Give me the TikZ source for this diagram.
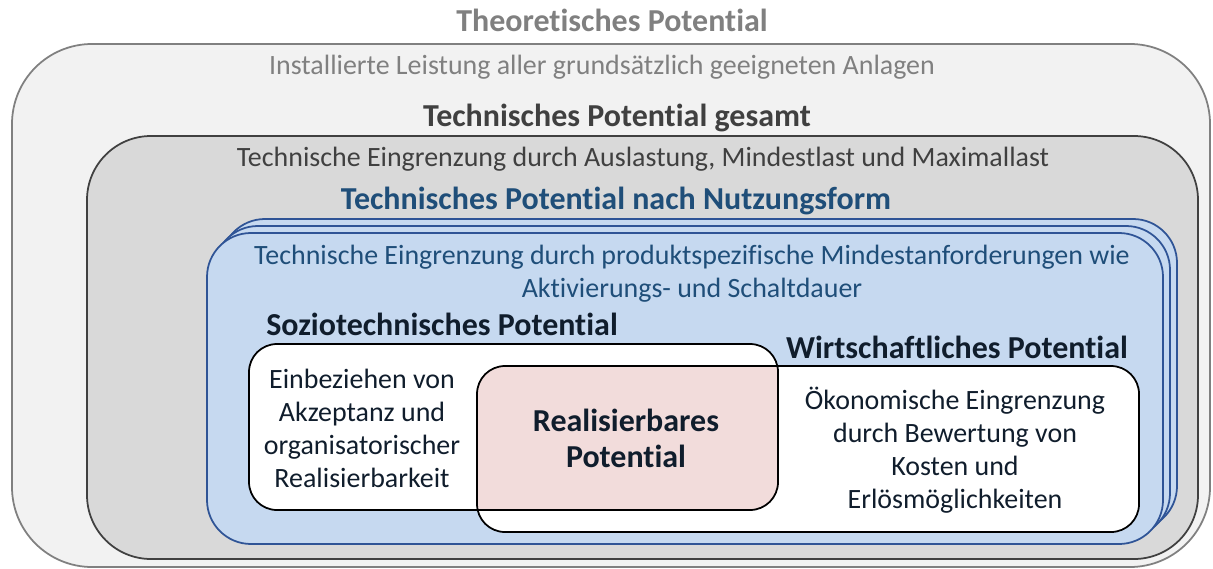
\documentclass[tikz,border=0pt]{standalone}
\usepackage{fontspec}
\setmainfont{Carlito}[Ligatures=NoCommon]
\usetikzlibrary{positioning}

\begin{document}
\begin{tikzpicture}[x=0.2mm,y=-0.2mm,
    frame/.style={line width=1pt, rounded corners=#1},
    title/.style={font=\fontsize{18.2}{21}\selectfont\bfseries, anchor=base, inner sep=0pt},
    remark/.style={font=\fontsize{15.9}{18.5}\selectfont, anchor=base, inner sep=0pt},
    boxtext/.style={font=\fontsize{15.9}{18.8}\selectfont, align=center, inner sep=0pt},
  ]
  \colorlet{theoFill}{black!5}
  \colorlet{theoLine}{black!50}
  \colorlet{techFill}{black!15}
  \colorlet{techLine}{black!75}
  \definecolor{useFill}{HTML}{C6D9F0}
  \definecolor{useLine}{HTML}{2F5496}
  \definecolor{useText}{HTML}{1F4E79}
  \definecolor{realFill}{HTML}{F2DCDB}
  \definecolor{ink}{HTML}{101D2C}

  \useasboundingbox (0,0) rectangle (1213,568);

  % Theoretisches Potential
  \draw[frame=16mm, theoLine, fill=theoFill] (12,44) rectangle (1210,567);
  \node[title, text=black!50] (theo) at (612,32) {Theoretisches Potential};
  \node[remark, text=black!50] (theoNote) at (602,74)
    {Installierte Leistung aller grundsätzlich geeigneten Anlagen};

  % Technisches Potential gesamt
  \draw[frame=12.8mm, techLine, fill=techFill] (87,136) rectangle (1198,559);
  \node[title, text=black!75] (tech) at (617,126) {Technisches Potential gesamt};
  \node[remark, text=black!75] (techNote) at (643,166)
    {Technische Eingrenzung durch Auslastung, Mindestlast und Maximallast};

  % Technisches Potential nach Nutzungsform (gestapelt)
  \node[title, text=useText] (use) at (616,209) {Technisches Potential nach Nutzungsform};
  \foreach \d in {14,7,0}
    \draw[frame=8.8mm, useLine, fill=useFill] (207+\d,233-\d) rectangle (1163+\d,544-\d);
  \node[boxtext, text=useText] (useNote) at (692,274)
    {Technische Eingrenzung durch produktspezifische Mindestanforderungen wie\\
     Aktivierungs- und Schaltdauer};

  % Soziotechnisches und wirtschaftliches Potential
  \node[title, text=ink] (socio) at (442,335) {Soziotechnisches Potential};
  \node[title, text=ink] (econ) at (957,358) {Wirtschaftliches Potential};
  \fill[rounded corners=5.6mm, white] (249,344) rectangle (778,510);
  \fill[rounded corners=5.6mm, white] (477,366) rectangle (1139,532);
  \begin{scope}
    \clip[rounded corners=5.6mm] (249,344) rectangle (778,510);
    \fill[rounded corners=5.6mm, realFill] (477,366) rectangle (1139,532);
  \end{scope}
  \draw[frame=5.6mm, black] (249,344) rectangle (778,510);
  \draw[frame=5.6mm, black] (477,366) rectangle (1139,532);

  \node[boxtext, text=ink] (socioNote) at (362,428)
    {Einbeziehen von\\ Akzeptanz und\\ organisatorischer\\ Realisierbarkeit};
  \node[boxtext, text=ink, font=\fontsize{18.2}{20.4}\selectfont\bfseries] (real) at (626,438)
    {Realisierbares\\ Potential};
  \node[boxtext, text=ink] (econNote) at (955,450)
    {Ökonomische Eingrenzung\\ durch Bewertung von\\ Kosten und\\ Erlösmöglichkeiten};
\end{tikzpicture}
\end{document}
